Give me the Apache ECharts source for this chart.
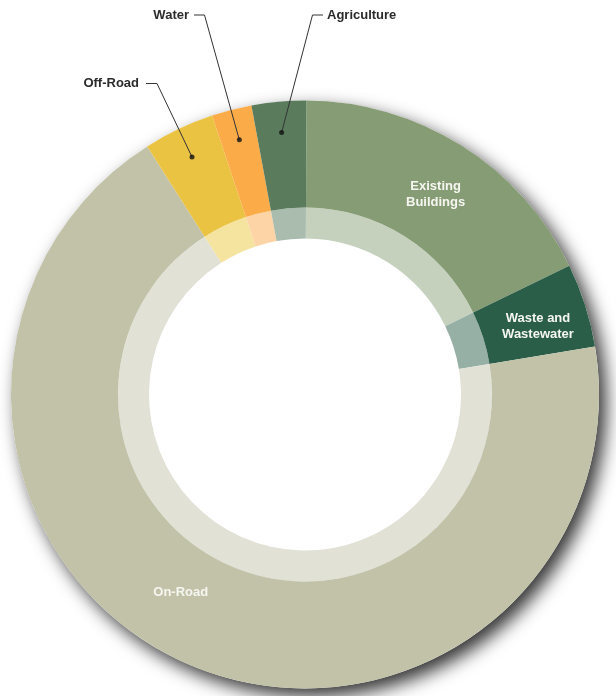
<!DOCTYPE html>
<html>
<head>
<meta charset="utf-8">
<script src="https://cdn.jsdelivr.net/npm/echarts@6/dist/echarts.min.js"></script>
<style>
  html, body { margin: 0; padding: 0; background: #ffffff; }
  #chart { width: 616px; height: 696px; }
</style>
</head>
<body>
<div id="chart"></div>
<script>
// Emission sectors, clockwise from 12 o'clock
const sectors = ['Existing Buildings', 'Waste and Wastewater', 'On-Road', 'Off-Road', 'Water', 'Agriculture'];
const sectorLabels = ['Existing\nBuildings', 'Waste and\nWastewater', 'On-Road', 'Off-Road', 'Water', 'Agriculture'];
const shares = [17.7, 4.6, 68.6, 3.9, 2.2, 3.0];
const outerColors = ['#869c74', '#2b5e49', '#c2c2a9', '#ebc342', '#fbab47', '#5a7c5c'];
const innerColors = ['#c5d1bd', '#97b0a6', '#e1e1d6', '#f5e3a0', '#fdd4a5', '#a9bcae'];
const calloutSectors = ['Off-Road', 'Water', 'Agriculture'];

// geometry
const CX = 305, CY = 394.5;
const R_OUT = 294, R_MID = 187, R_IN = 156;
const START = 89.7;      // degrees, ECharts convention (90 = top)
const DOT_R = 263;       // radius of the callout dots
const FONT = '"Liberation Sans", Arial, Helvetica, sans-serif';

// where the callout texts sit and how their leader lines bend
const calloutLayout = {
  'Off-Road':    { x: 139, y: 83,  align: 'right', elbow: [157, 83.5], end: [146, 83.5] },
  'Water':       { x: 189, y: 15,  align: 'right', elbow: [204.5, 15], end: [194, 15] },
  'Agriculture': { x: 327, y: 15,  align: 'left',  elbow: [312.5, 15], end: [323, 15] }
};
// nudges for the labels printed inside the ring
const insideLabelShift = {
  'Existing Buildings':   [1, 6],
  'Waste and Wastewater': [1, 5.5],
  'On-Road':              [-25, -24]
};

const total = shares.reduce((a, b) => a + b, 0);
// mid angle of every sector in angle-axis units (0..360, clockwise from START)
const midAngles = [];
{
  let acc = 0;
  shares.forEach(v => { midAngles.push((acc + v / 2) / total * 360); acc += v; });
}
// pixel position of a callout dot, same placement as the polar scatter below
function dotPixel(i) {
  const a = (90 - START + midAngles[i]) * Math.PI / 180;
  return [CX + DOT_R * Math.sin(a), CY - DOT_R * Math.cos(a)];
}

const outerData = sectors.map((name, i) => ({
  name: name,
  value: shares[i],
  itemStyle: { color: outerColors[i] },
  label: { show: !calloutSectors.includes(name) }
}));
const innerData = sectors.map((name, i) => ({ name: name, value: shares[i], itemStyle: { color: innerColors[i] } }));
const calloutData = sectors.map((name, i) => {
  const on = calloutSectors.includes(name);
  return { name: name, value: shares[i], label: { show: on }, labelLine: { show: on } };
});
const dotData = sectors
  .map((name, i) => calloutSectors.includes(name) ? { name: name, value: [DOT_R, midAngles[i]] } : null)
  .filter(d => d);

const chart = echarts.init(document.getElementById('chart'), null, { renderer: 'canvas' });

chart.setOption({
  animation: false,
  backgroundColor: '#ffffff',
  polar: { center: [CX, CY], radius: R_OUT },
  angleAxis: { type: 'value', min: 0, max: 360, startAngle: START, clockwise: true, show: false },
  radiusAxis: { type: 'value', min: 0, max: R_OUT, show: false },
  series: [
    {
      // disc casting the drop shadow behind the ring
      type: 'pie',
      center: [CX, CY],
      radius: [0, R_OUT],
      silent: true,
      z: 1,
      label: { show: false },
      labelLine: { show: false },
      itemStyle: {
        color: '#ffffff',
        shadowBlur: 18,
        shadowOffsetX: 7,
        shadowOffsetY: 8,
        shadowColor: 'rgba(0,0,0,0.8)'
      },
      data: [{ value: 1, name: 'disc' }]
    },
    {
      type: 'pie',
      center: [CX, CY],
      radius: [R_IN, R_MID],
      startAngle: START,
      clockwise: true,
      silent: true,
      z: 2,
      label: { show: false },
      labelLine: { show: false },
      itemStyle: { borderWidth: 0 },
      data: innerData
    },
    {
      type: 'pie',
      center: [CX, CY],
      radius: [R_MID, R_OUT],
      startAngle: START,
      clockwise: true,
      avoidLabelOverlap: false,
      silent: true,
      z: 3,
      itemStyle: { borderWidth: 0 },
      label: {
        show: true,
        position: 'inside',
        color: '#f6f6f1',
        fontFamily: FONT,
        fontWeight: 'bold',
        fontSize: 13,
        lineHeight: 16,
        align: 'center',
        formatter: p => sectorLabels[p.dataIndex]
      },
      labelLine: { show: false },
      labelLayout: function (p) {
        const s = insideLabelShift[sectors[p.dataIndex]];
        return s ? { dx: s[0], dy: s[1] } : {};
      },
      data: outerData
    },
    {
      // see-through copy of the ring carrying the callout names and leader lines
      type: 'pie',
      center: [CX, CY],
      radius: [R_MID, R_OUT],
      startAngle: START,
      clockwise: true,
      avoidLabelOverlap: false,
      silent: true,
      z: 4,
      itemStyle: { color: 'rgba(0,0,0,0)', borderWidth: 0 },
      label: {
        position: 'outside',
        color: '#2b2b2b',
        fontFamily: FONT,
        fontWeight: 'bold',
        fontSize: 13,
        formatter: p => sectorLabels[p.dataIndex]
      },
      labelLine: {
        showAbove: true,
        lineStyle: { color: '#333333', width: 1 }
      },
      labelLayout: function (p) {
        const c = calloutLayout[sectors[p.dataIndex]];
        if (!c) return {};
        return {
          x: c.x,
          y: c.y,
          align: c.align,
          verticalAlign: 'middle',
          labelLinePoints: [dotPixel(p.dataIndex), c.elbow, c.end]
        };
      },
      data: calloutData
    },
    {
      // callout dots
      type: 'scatter',
      coordinateSystem: 'polar',
      symbol: 'circle',
      symbolSize: 5,
      silent: true,
      z: 5,
      itemStyle: { color: '#111111' },
      data: dotData
    }
  ]
});
</script>
</body>
</html>
